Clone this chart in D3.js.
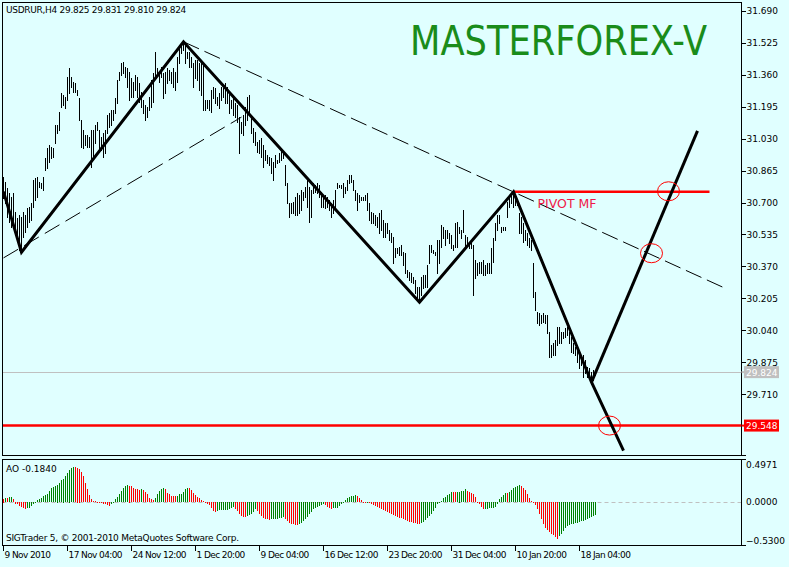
<!DOCTYPE html>
<html>
<head>
<meta charset="utf-8">
<script src="https://cdn.jsdelivr.net/npm/d3@7"></script>
<style>
  html, body { margin: 0; padding: 0; background: #e0ffff; }
  svg { display: block; }
  text { font-family: "DejaVu Sans", sans-serif; }
</style>
</head>
<body>
<svg id="chart" width="789" height="567"></svg>
<script>
// ---- USDRUR H4 price bars (high / low per bar) ----
const highs = [
30.831,30.805,30.774,30.748,30.727,30.748,30.650,30.619,30.635,30.624,
30.650,30.635,30.671,30.676,30.696,30.815,30.826,30.831,30.805,30.800,
30.831,30.929,30.981,30.996,30.986,30.981,31.099,31.099,31.167,31.265,
31.254,31.244,31.347,31.394,31.347,31.321,31.316,31.280,31.239,31.125,
31.074,31.048,31.048,31.037,31.074,31.074,31.099,31.115,31.074,31.037,
31.058,31.074,31.151,31.161,31.177,31.177,31.239,31.332,31.373,31.420,
31.425,31.399,31.394,31.373,31.342,31.321,31.358,31.347,31.316,31.270,
31.229,31.203,31.192,31.244,31.332,31.368,31.476,31.394,31.373,31.399,
31.368,31.373,31.394,31.383,31.373,31.394,31.373,31.451,31.502,31.523,
31.530,31.523,31.476,31.476,31.451,31.420,31.435,31.435,31.420,31.420,
31.420,31.229,31.229,31.229,31.280,31.296,31.290,31.244,31.265,31.296,
31.290,31.316,31.296,31.265,31.229,31.239,31.213,31.203,31.141,31.115,
31.151,31.192,31.244,31.254,31.136,31.084,31.063,31.012,31.022,31.032,
30.996,30.970,30.944,30.934,30.929,30.908,30.944,30.919,30.955,30.970,
30.955,30.893,30.800,30.696,30.696,30.702,30.727,30.748,30.738,30.764,
30.753,30.779,30.815,30.779,30.764,30.800,30.790,30.800,30.790,30.753,
30.727,30.738,30.727,30.712,30.696,30.712,30.764,30.800,30.790,30.790,
30.800,30.779,30.815,30.841,30.841,30.815,30.764,30.748,30.738,30.727,
30.727,30.738,30.748,30.696,30.650,30.645,30.635,30.624,30.645,30.660,
30.609,30.593,30.593,30.557,30.542,30.521,30.464,30.464,30.469,30.480,
30.443,30.438,30.350,30.340,30.335,30.314,30.299,30.263,30.263,30.314,
30.325,30.325,30.376,30.480,30.480,30.454,30.443,30.505,30.505,30.583,
30.573,30.557,30.557,30.542,30.531,30.480,30.593,30.598,30.573,30.557,
30.660,30.531,30.521,30.495,30.495,30.480,30.402,30.387,30.392,30.392,
30.402,30.376,30.387,30.387,30.464,30.516,30.593,30.635,30.635,30.573,
30.573,30.573,30.702,30.738,30.748,30.755,30.727,30.712,30.645,30.624,
30.593,30.557,30.542,30.516,30.505,30.387,30.237,30.133,30.128,30.118,
30.128,30.118,30.118,30.030,29.963,29.973,29.989,30.056,30.056,30.030,
30.030,30.051,30.056,30.030,30.004,29.973,29.953,29.937,29.922,29.911,
29.911,29.886,29.849,29.844,29.824,29.834,29.831
];
const lows = [
30.722,30.696,30.624,30.598,30.573,30.593,30.542,30.521,30.454,30.443,
30.521,30.547,30.573,30.598,30.609,30.676,30.712,30.727,30.779,30.774,
30.764,30.867,30.877,30.908,30.929,30.934,31.006,31.058,31.074,31.192,
31.203,31.187,31.229,31.265,31.296,31.270,31.270,31.254,31.125,30.986,
30.981,30.996,30.986,30.986,30.882,30.934,31.006,31.074,30.970,30.970,
30.934,30.955,31.058,31.089,31.099,31.125,31.161,31.213,31.332,31.358,
31.368,31.347,31.296,31.229,31.244,31.244,31.280,31.244,31.218,31.192,
31.161,31.125,31.141,31.177,31.192,31.218,31.347,31.368,31.321,31.347,
31.239,31.265,31.316,31.332,31.316,31.296,31.280,31.321,31.420,31.471,
31.487,31.420,31.445,31.399,31.399,31.296,31.342,31.332,31.280,31.254,
31.177,31.177,31.187,31.177,31.167,31.239,31.213,31.203,31.187,31.229,
31.244,31.213,31.213,31.161,31.187,31.151,31.141,31.115,30.955,31.058,
31.048,31.099,31.125,31.151,31.058,31.012,30.996,30.960,30.955,30.934,
30.882,30.919,30.903,30.893,30.851,30.815,30.882,30.903,30.908,30.919,
30.929,30.790,30.696,30.624,30.645,30.645,30.635,30.635,30.645,30.660,
30.712,30.727,30.676,30.598,30.624,30.748,30.753,30.748,30.727,30.676,
30.676,30.671,30.676,30.660,30.624,30.645,30.676,30.774,30.779,30.774,
30.727,30.748,30.764,30.800,30.805,30.764,30.712,30.660,30.702,30.712,
30.712,30.712,30.660,30.609,30.593,30.593,30.583,30.573,30.542,30.557,
30.521,30.521,30.542,30.505,30.495,30.387,30.418,30.438,30.428,30.428,
30.376,30.335,30.314,30.299,30.288,30.283,30.232,30.206,30.185,30.221,
30.257,30.263,30.263,30.387,30.443,30.438,30.428,30.335,30.387,30.469,
30.516,30.480,30.516,30.490,30.464,30.454,30.469,30.469,30.542,30.516,
30.547,30.469,30.480,30.464,30.464,30.221,30.309,30.325,30.335,30.335,
30.325,30.325,30.335,30.335,30.335,30.392,30.505,30.557,30.593,30.547,
30.557,30.557,30.624,30.676,30.696,30.676,30.686,30.686,30.542,30.542,
30.495,30.505,30.480,30.469,30.454,30.211,30.144,30.077,30.066,30.077,
30.082,30.077,30.025,29.901,29.901,29.911,29.911,29.963,29.973,29.973,
29.999,30.004,30.015,29.973,29.927,29.922,29.911,29.875,29.844,29.860,
29.798,29.818,29.798,29.808,29.772,29.782,29.810
];

// ---- Awesome Oscillator histogram ----
const aoValues = [
0.050,0.056,0.052,0.066,0.075,0.038,-0.024,-0.033,-0.056,-0.071,
-0.080,-0.094,-0.089,-0.080,-0.056,-0.033,-0.010,0.024,0.038,0.061,
0.080,0.099,0.118,0.155,0.193,0.212,0.230,0.249,0.273,0.306,
0.334,0.367,0.414,0.461,0.484,0.4971,0.496,0.490,0.475,0.428,
0.367,0.273,0.179,0.099,0.047,0.019,0.009,0.002,-0.002,-0.014,
-0.024,-0.033,-0.042,-0.061,-0.033,-0.010,0.038,0.071,0.118,0.155,
0.202,0.226,0.240,0.235,0.221,0.202,0.188,0.183,0.174,0.183,
0.165,0.146,0.108,0.061,0.038,0.024,0.061,0.108,0.155,0.179,
0.193,0.179,0.132,0.108,0.085,0.084,0.080,0.089,0.108,0.118,
0.146,0.179,0.202,0.193,0.165,0.132,0.099,0.071,0.052,0.033,
0.014,0.001,-0.024,-0.042,-0.080,-0.127,-0.136,-0.127,-0.118,-0.117,
-0.113,-0.112,-0.108,-0.103,-0.089,-0.071,-0.103,-0.127,-0.165,-0.197,
-0.212,-0.213,-0.202,-0.183,-0.165,-0.136,-0.103,-0.127,-0.165,-0.197,
-0.221,-0.235,-0.244,-0.249,-0.240,-0.239,-0.238,-0.235,-0.230,-0.221,
-0.212,-0.244,-0.268,-0.291,-0.306,-0.315,-0.324,-0.329,-0.315,-0.291,
-0.268,-0.244,-0.212,-0.174,-0.136,-0.103,-0.089,-0.071,-0.056,-0.042,
-0.033,-0.047,-0.071,-0.089,-0.094,-0.089,-0.085,-0.080,-0.056,-0.024,
0.004,0.028,0.052,0.071,0.080,0.089,0.099,0.085,0.061,0.024,
-0.005,-0.014,-0.013,-0.014,-0.033,-0.042,-0.056,-0.071,-0.085,-0.100,
-0.115,-0.128,-0.140,-0.155,-0.168,-0.180,-0.193,-0.207,-0.221,-0.230,
-0.244,-0.259,-0.268,-0.277,-0.287,-0.296,-0.301,-0.306,-0.310,-0.291,
-0.277,-0.259,-0.230,-0.197,-0.165,-0.127,-0.080,-0.024,-0.005,0.014,
0.052,0.071,0.099,0.118,0.146,0.141,0.136,0.146,0.150,0.155,
0.160,0.179,0.155,0.136,0.132,0.118,0.071,-0.009,-0.033,-0.071,
-0.103,-0.099,-0.094,-0.089,-0.088,-0.080,-0.066,-0.033,0.038,0.071,
0.099,0.127,0.122,0.146,0.165,0.193,0.212,0.226,0.240,0.226,
0.202,0.165,0.108,0.052,0.014,-0.009,-0.042,-0.103,-0.174,-0.244,
-0.306,-0.362,-0.400,-0.418,-0.447,-0.465,-0.494,-0.530,-0.479,-0.447,
-0.409,-0.371,-0.338,-0.324,-0.315,-0.306,-0.300,-0.293,-0.285,-0.276,
-0.266,-0.256,-0.245,-0.232,-0.218,-0.202,-0.184
];

// ---- axis ticks ----
const priceTicks = [31.690,31.525,31.360,31.195,31.030,30.865,30.700,30.535,30.370,30.205,30.040,29.875,29.710];
const aoTicks = [0.4971, 0.0, -0.5300];
const dateTickIndex = [0,32,64,96,128,160,192,224,256,288];
const dateTickLabels = ["9 Nov 2010","17 Nov 04:00","24 Nov 12:00","1 Dec 20:00","9 Dec 04:00",
                        "16 Dec 12:00","23 Dec 20:00","31 Dec 04:00","10 Jan 20:00","18 Jan 04:00"];

// ---- analysis drawings (bar index / price) ----
const zigzagIdx   = [0, 9, 90, 208, 255, 294, 310];
const zigzagPrice = [30.756, 30.443, 31.530, 30.185, 30.755, 29.772, 29.419];
const projectionIdx   = [294, 347];
const projectionPrice = [29.772, 31.070];
const upperTrendIdx   = [90, 360];
const upperTrendPrice = [31.530, 30.261];
const lowerTrendIdx   = [0, 119];
const lowerTrendPrice = [30.414, 31.141];
const pivotIdx = [255, 353];
const pivotPrice = 30.755;
const supportPrice = 29.548;
const bidPrice = 29.824;
const markerIdx   = [303, 324, 332.5];
const markerPrice = [29.548, 30.438, 30.758];

const symbolCaption = "USDRUR,H4  29.825 29.831 29.810 29.824";
const aoCaption = "AO -0.1840";
const copyright = "SIGTrader 5, \u00A9 2001-2010 MetaQuotes Software Corp.";
const brandTitle = "MASTERFOREX-V";
const pivotLabel = "PIVOT MF";

// ---- layout ----
const svg = d3.select("#chart");
const W = 789, H = 567;
const L = 2.5, R = 741.5;
const mainTop = 2.5, mainBottom = 455.5;
const aoTop = 459.5, aoBottom = 545.5;
const GREEN = "#008000", RED = "#ff0000";

svg.append("rect").attr("width", W).attr("height", H).attr("fill", "#e0ffff");

// bar centres sit on pixel columns 3, 5, 7, ...
const x = d3.scaleLinear().domain([0, 296]).range([3.5, 595.5]);
const y = d3.scaleLinear().domain([29.71, 31.69]).range([394.2, 10.8]);
const aoY = d3.scaleLinear().domain([-0.53, 0.4971]).range([539.5, 467]);

const defs = svg.append("defs");
defs.append("clipPath").attr("id", "mainClip")
  .append("rect").attr("x", L).attr("y", mainTop).attr("width", R - L).attr("height", mainBottom - mainTop);

const main = svg.append("g").attr("clip-path", "url(#mainClip)");

// horizontal price lines
main.append("line").attr("x1", L).attr("x2", R)
  .attr("y1", Math.round(y(bidPrice)) + 0.5).attr("y2", Math.round(y(bidPrice)) + 0.5)
  .attr("stroke", "#c0c0c0").attr("stroke-width", 1);
main.append("line").attr("x1", L).attr("x2", R)
  .attr("y1", y(supportPrice)).attr("y2", y(supportPrice))
  .attr("stroke", RED).attr("stroke-width", 2.5);

// price bars (high-low)
main.append("g").attr("shape-rendering", "crispEdges")
  .selectAll("rect").data(highs).join("rect")
  .attr("x", (d, i) => x(i) - 0.5).attr("width", 1)
  .attr("y", d => Math.round(y(d)))
  .attr("height", (d, i) => Math.max(Math.round(y(lows[i])) - Math.round(y(d)), 1) + 1)
  .attr("fill", "#000");

// trend lines (dashed)
const seg = (idx, pr) => d3.line()(idx.map((v, k) => [x(v), y(pr[k])]));
main.append("path").attr("d", seg(upperTrendIdx, upperTrendPrice))
  .attr("fill", "none").attr("stroke", "#000").attr("stroke-width", 1).attr("stroke-dasharray", "17,6");
main.append("path").attr("d", seg(lowerTrendIdx, lowerTrendPrice))
  .attr("fill", "none").attr("stroke", "#000").attr("stroke-width", 1).attr("stroke-dasharray", "17,7");

// pivot line
main.append("line").attr("x1", x(pivotIdx[0])).attr("x2", x(pivotIdx[1]))
  .attr("y1", y(pivotPrice)).attr("y2", y(pivotPrice))
  .attr("stroke", RED).attr("stroke-width", 2.5);
main.append("text").attr("x", x(267)).attr("y", y(pivotPrice) + 16)
  .attr("fill", "#f01848").attr("font-family", "Liberation Sans, Arial, sans-serif")
  .attr("font-size", 12.5).text(pivotLabel);

// zigzag and projection
main.append("path").attr("d", seg(zigzagIdx, zigzagPrice))
  .attr("fill", "none").attr("stroke", "#000").attr("stroke-width", 3).attr("stroke-linejoin", "miter");
main.append("path").attr("d", seg(projectionIdx, projectionPrice))
  .attr("fill", "none").attr("stroke", "#000").attr("stroke-width", 3);

// target markers
main.append("g").selectAll("ellipse").data(markerIdx).join("ellipse")
  .attr("cx", d => x(d)).attr("cy", (d, k) => y(markerPrice[k]))
  .attr("rx", 11).attr("ry", 9.5)
  .attr("fill", "none").attr("stroke", RED).attr("stroke-width", 1);

// brand title (horizontally narrowed)
svg.append("text").attr("transform", "translate(410,55) scale(0.86,1)")
  .attr("font-family", "Liberation Sans, Arial, sans-serif").attr("font-size", 41)
  .attr("fill", "#1a8c1a").text(brandTitle);

// symbol caption
svg.append("text").attr("x", 6).attr("y", 13).attr("font-size", 9)
  .attr("letter-spacing", -0.3).attr("fill", "#000").text(symbolCaption);

// ---- AO sub-window ----
svg.append("line").attr("x1", L).attr("x2", R).attr("y1", Math.round(aoY(0)) + 0.5).attr("y2", Math.round(aoY(0)) + 0.5)
  .attr("stroke", "#c0c0c0").attr("stroke-dasharray", "4,3");
svg.append("g").attr("shape-rendering", "crispEdges")
  .selectAll("rect").data(aoValues).join("rect")
  .attr("x", (d, i) => x(i) - 0.5).attr("width", 1)
  .attr("y", d => Math.round(Math.min(aoY(d), aoY(0))))
  .attr("height", d => Math.max(Math.round(Math.abs(aoY(d) - aoY(0))), 1))
  .attr("fill", (d, i) => (i > 0 && d > aoValues[i - 1]) ? GREEN : RED);

svg.append("text").attr("x", 6).attr("y", 472).attr("font-size", 9).text(aoCaption);
svg.append("text").attr("x", 6).attr("y", 541).attr("font-size", 9)
  .attr("letter-spacing", -0.25).text(copyright);

// ---- frames ----
const frame = svg.append("g").attr("fill", "none").attr("stroke", "#000").attr("stroke-width", 1)
  .attr("shape-rendering", "crispEdges");
frame.append("rect").attr("x", L).attr("y", mainTop).attr("width", R - L).attr("height", mainBottom - mainTop);
frame.append("rect").attr("x", L).attr("y", aoTop).attr("width", R - L).attr("height", aoBottom - aoTop);
frame.append("line").attr("x1", R).attr("x2", R + 4).attr("y1", mainBottom).attr("y2", mainBottom);
frame.append("line").attr("x1", R).attr("x2", R + 4).attr("y1", aoTop).attr("y2", aoTop);
frame.append("line").attr("x1", R).attr("x2", R + 4).attr("y1", aoBottom).attr("y2", aoBottom);

// ---- price axis ----
const priceAxis = svg.append("g").attr("transform", `translate(${R},0)`)
  .call(d3.axisRight(y).tickValues(priceTicks).tickSize(4).tickPadding(1).tickFormat(d3.format(".3f")));
priceAxis.select(".domain").remove();
priceAxis.selectAll("text").attr("font-size", 9).attr("font-family", "DejaVu Sans, sans-serif").attr("fill", "#000");
priceAxis.selectAll("line").attr("stroke", "#000").attr("shape-rendering", "crispEdges");

// price tags on the axis
const tag = (price, bg) => {
  const yy = y(price);
  svg.append("line").attr("x1", R).attr("x2", R + 3).attr("y1", yy).attr("y2", yy).attr("stroke", bg).attr("stroke-width", 2);
  svg.append("rect").attr("x", 744).attr("y", yy - 6).attr("width", 35).attr("height", 12).attr("fill", bg);
  svg.append("text").attr("x", 746).attr("y", yy + 3.5).attr("font-size", 9).attr("fill", "#fff")
    .text(d3.format(".3f")(price));
};
tag(bidPrice, "#c0c0c0");
tag(supportPrice, RED);

// ---- AO axis labels ----
const aoLabelY = [465, aoY(0), 541];
svg.append("g").selectAll("text").data(aoTicks).join("text")
  .attr("x", 746).attr("y", (d, k) => aoLabelY[k]).attr("dy", "0.35em")
  .attr("font-size", 9).attr("fill", "#000").text(d => d3.format(".4f")(d));

// ---- date axis ----
const dateAxis = svg.append("g").attr("transform", `translate(-1,${aoBottom})`)
  .call(d3.axisBottom(x).tickValues(dateTickIndex).tickSize(5)
    .tickFormat((d, k) => dateTickLabels[k]));
dateAxis.select(".domain").remove();
dateAxis.selectAll("line").attr("stroke", "#000").attr("shape-rendering", "crispEdges");
dateAxis.selectAll("text").attr("font-size", 9).attr("font-family", "DejaVu Sans, sans-serif")
  .attr("letter-spacing", -0.6)
  .attr("text-anchor", "start").attr("dx", "1.5").attr("dy", "0.45em").attr("fill", "#000");
</script>
</body>
</html>
